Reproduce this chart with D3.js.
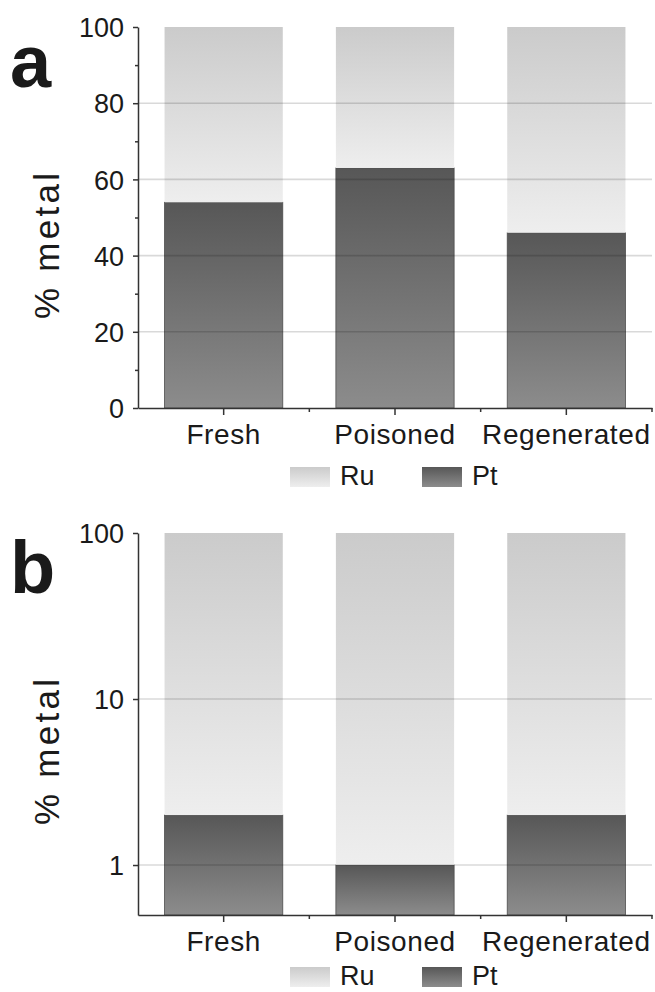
<!DOCTYPE html>
<html>
<head>
<meta charset="utf-8">
<script src="https://cdn.jsdelivr.net/npm/d3@7"></script>
<style>
  html, body { margin: 0; padding: 0; background: #fff; }
  svg { display: block; }
  text { font-family: "Liberation Sans", Arial, sans-serif; fill: #1a1a1a; }
</style>
</head>
<body>
<svg id="chart" width="655" height="992"></svg>
<script>
// Metal composition of the catalyst samples
const categories = ["Fresh", "Poisoned", "Regenerated"];
const seriesKeys = ["Pt", "Ru"];

// Panel a: linear scale
const ptLinear = [54, 63, 46];
const ruLinear = [46, 37, 54];
const linearTicks = [0, 20, 40, 60, 80, 100];
const linearMinorTicks = [10, 30, 50, 70, 90];
const linearGrid = [20, 40, 60, 80];

// Panel b: logarithmic scale
const ptLog = [2, 1, 2];
const ruLog = [98, 99, 98];
const logTicks = [1, 10, 100];
const logGrid = [1, 10];

const svg = d3.select("#chart");
const defs = svg.append("defs");

function gradient(id, top, bottom) {
  const g = defs.append("linearGradient").attr("id", id)
    .attr("x1", 0).attr("y1", 0).attr("x2", 0).attr("y2", 1);
  g.append("stop").attr("offset", 0).attr("stop-color", top);
  g.append("stop").attr("offset", 1).attr("stop-color", bottom);
}
gradient("gradRu", "#cbcbcb", "#eeeeee");
gradient("gradPt", "#575757", "#8c8c8c");
const fills = { Ru: "url(#gradRu)", Pt: "url(#gradPt)" };

const x = d3.scaleBand().domain(categories).range([138, 652])
  .paddingInner(0.31).paddingOuter(0.155);

function drawPanel(opts) {
  const { top, bottom, y, pt, ru, ticks, minorTicks, grid, letter, tickFmt, legendY } = opts;
  const g = svg.append("g");

  const rows = categories.map((c, i) => ({ cat: c, Pt: pt[i], Ru: ru[i] }));
  const stacked = d3.stack().keys(seriesKeys)(rows);

  // stacked bars
  g.selectAll("g.series").data(stacked).join("g")
    .attr("class", "series")
    .each(function (s) {
      d3.select(this).selectAll("rect").data(s).join("rect")
        .attr("x", d => x(d.data.cat))
        .attr("width", x.bandwidth())
        .attr("y", d => y(d[1]))
        .attr("height", d => y(d[0]) - y(d[1]))
        .attr("fill", fills[s.key])
        .attr("stroke", s.key === "Pt" ? "#4d4d4d" : "none")
        .attr("stroke-width", 0.8);
    });

  // gridlines over the bars
  g.selectAll("line.grid").data(grid).join("line")
    .attr("class", "grid")
    .attr("x1", x.range()[0]).attr("x2", x.range()[1])
    .attr("y1", d => y(d)).attr("y2", d => y(d))
    .attr("stroke", "#000").attr("stroke-opacity", 0.15).attr("stroke-width", 1.6);

  // left axis
  const yAxis = g.append("g").attr("transform", `translate(${x.range()[0]},0)`)
    .call(d3.axisLeft(y).tickValues(ticks).tickFormat(tickFmt)
      .tickSize(5).tickSizeOuter(0).tickPadding(9));
  if (minorTicks.length) {
    g.append("g").attr("transform", `translate(${x.range()[0]},0)`)
      .call(d3.axisLeft(y).tickValues(minorTicks).tickFormat("")
        .tickSize(3).tickSizeOuter(0))
      .select(".domain").remove();
  }
  yAxis.selectAll("text").style("font-size", "27px").attr("dy", "0.36em");

  // bottom axis
  const xAxis = g.append("g").attr("transform", `translate(0,${bottom})`)
    .call(d3.axisBottom(x).tickSize(7).tickSizeOuter(0).tickPadding(9));
  xAxis.selectAll("text").style("font-size", "28px").attr("dy", "0.72em")
    .style("letter-spacing", "0.6px");
  // minor ticks between categories
  xAxis.selectAll("line.minor").data(categories).join("line")
    .attr("class", "minor")
    .attr("x1", c => x(c) + x.bandwidth() / 2 + x.step() / 2)
    .attr("x2", c => x(c) + x.bandwidth() / 2 + x.step() / 2)
    .attr("y1", 0).attr("y2", 4);

  svg.selectAll(".domain, .tick line, line.minor")
    .attr("stroke", "#333").attr("stroke-width", 1.5);

  // y-axis title
  g.append("text")
    .attr("transform", `translate(59,${top + 219}) rotate(-90)`)
    .attr("text-anchor", "middle")
    .attr("textLength", 146).attr("lengthAdjust", "spacing")
    .style("font-size", "35px")
    .text("% metal");

  // panel letter
  g.append("text").attr("x", 10).attr("y", top + 60)
    .style("font-size", "74px").style("font-weight", "bold")
    .text(letter);

  // legend
  const legend = [
    { key: "Ru", x: 290 },
    { key: "Pt", x: 422 }
  ];
  legend.forEach(l => {
    g.append("rect").attr("x", l.x).attr("y", legendY).attr("width", 40).attr("height", 20)
      .attr("fill", fills[l.key]);
    g.append("text").attr("x", l.x + 50).attr("y", legendY + 18)
      .style("font-size", "27px").text(l.key);
  });
}

drawPanel({
  top: 27, bottom: 408, legendY: 467,
  y: d3.scaleLinear().domain([0, 100]).range([408, 27]),
  pt: ptLinear, ru: ruLinear,
  ticks: linearTicks, minorTicks: linearMinorTicks, grid: linearGrid,
  letter: "a", tickFmt: d3.format("d")
});

drawPanel({
  top: 533, bottom: 915, legendY: 967,
  y: d3.scaleLog().domain([0.5, 100]).range([915, 533]).clamp(true),
  pt: ptLog, ru: ruLog,
  ticks: logTicks, minorTicks: [], grid: logGrid,
  letter: "b", tickFmt: d3.format("d")
});
</script>
</body>
</html>
